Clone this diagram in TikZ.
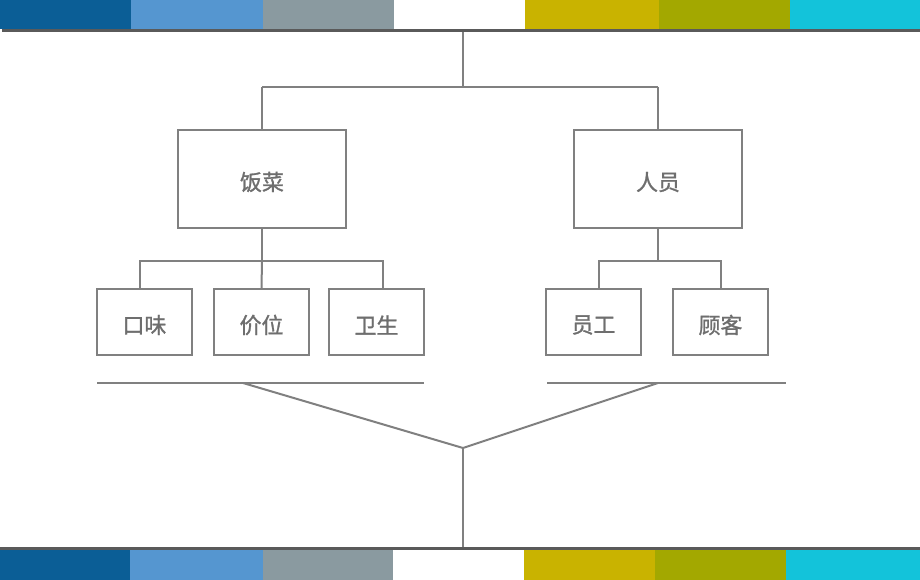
\documentclass[tikz,border=0pt]{standalone}
\usepackage{fontspec}
\newfontfamily\cjk[FakeBold=1.2]{Noto Sans CJK SC}
\definecolor{cA}{HTML}{0B5E96}
\definecolor{cB}{HTML}{5596D0}
\definecolor{cC}{HTML}{8A9AA0}
\definecolor{cD}{HTML}{FFFFFF}
\definecolor{cE}{HTML}{C9B300}
\definecolor{cF}{HTML}{A3A800}
\definecolor{cG}{HTML}{13C3DA}
\definecolor{barline}{HTML}{5A5A5A}
\definecolor{ln}{HTML}{808080}
\definecolor{txt}{HTML}{6E6E6E}
\newcommand{\lbl}[1]{\raisebox{-3bp}[\height][\depth]{#1}}
\tikzset{
  box/.style={draw=ln, line width=2bp, fill=white, inner sep=0pt, font=\cjk\fontsize{22}{26}\selectfont, text=txt},
  conn/.style={draw=ln, line width=2bp},
}
\begin{document}
\begin{tikzpicture}[x=1bp,y=-1bp]
\useasboundingbox (0,0) rectangle (920,580);
\fill[white] (0,0) rectangle (920,580);
% top bars
\fill[cA] (0,0) rectangle (131,29);
\fill[cB] (131,0) rectangle (263,29);
\fill[cC] (263,0) rectangle (394,29);
\fill[cD] (394,0) rectangle (525,29);
\fill[cE] (525,0) rectangle (659,29);
\fill[cF] (659,0) rectangle (790,29);
\fill[cG] (790,0) rectangle (920,29);
\fill[barline] (2,29) rectangle (920,32);
% bottom bars
\fill[barline] (0,547) rectangle (920,550);
\fill[cA] (0,550) rectangle (130,580);
\fill[cB] (130,550) rectangle (263,580);
\fill[cC] (263,550) rectangle (393,580);
\fill[cD] (393,550) rectangle (524,580);
\fill[cE] (524,550) rectangle (655,580);
\fill[cF] (655,550) rectangle (786,580);
\fill[cG] (786,550) rectangle (920,580);

% coordinates
\coordinate (top) at (463,32);
\coordinate (topj) at (463,87);
\coordinate (lj) at (262,87);
\coordinate (rj) at (658,87);

% main boxes
\node[box, minimum width=168bp, minimum height=98bp] (fc) at (262,179) {\lbl{饭菜}};
\node[box, minimum width=168bp, minimum height=98bp] (ry) at (658,179) {\lbl{人员}};

% sub boxes
\node[box, minimum width=95bp, minimum height=66bp] (kw) at (144.5,322) {\lbl{口味}};
\node[box, minimum width=95bp, minimum height=66bp] (jw) at (261.5,322) {\lbl{价位}};
\node[box, minimum width=95bp, minimum height=66bp] (ws) at (376.5,322) {\lbl{卫生}};
\node[box, minimum width=95bp, minimum height=66bp] (yg) at (593.5,322) {\lbl{员工}};
\node[box, minimum width=95bp, minimum height=66bp] (gk) at (720.5,322) {\lbl{顾客}};

% top connectors
\draw[conn] (top) -- (topj);
\draw[conn] (lj) -- (rj);
\draw[conn] (lj) -- (fc.north);
\draw[conn] (rj) -- (ry.north);

% left branch
\coordinate (lh) at (262,261);
\draw[conn] (fc.south) -- (lh);
\draw[conn] (140,289) |- (lh) -| (383,289);
\draw[conn] (lh) -- (jw.north);
% right branch
\coordinate (rh) at (658,261);
\draw[conn] (ry.south) -- (rh);
\draw[conn] (599,289) |- (rh) -| (721,289);

% bottom lines
\coordinate (bl1) at (97,383);
\coordinate (bl2) at (424,383);
\coordinate (br1) at (547,383);
\coordinate (br2) at (786,383);
\coordinate (lstart) at (243,383);
\coordinate (rstart) at (658,383);
\coordinate (apex) at (463,448);
\coordinate (bot) at (463,547);
\draw[conn] (bl1) -- (bl2);
\draw[conn] (br1) -- (br2);
\draw[conn, line join=miter] (lstart) -- (apex) -- (rstart);
\draw[conn] (apex) -- (bot);
\end{tikzpicture}
\end{document}
